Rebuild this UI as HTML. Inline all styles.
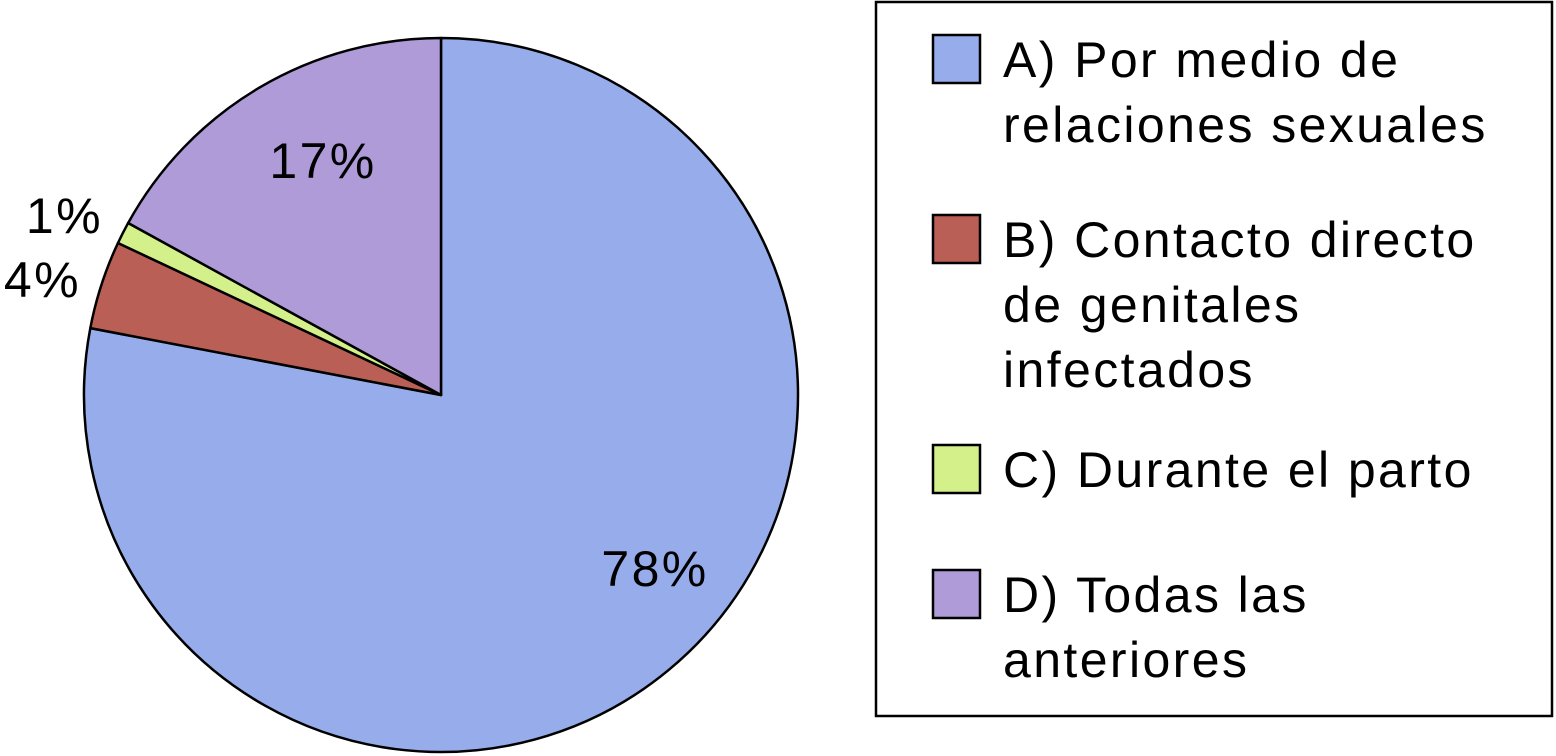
<!DOCTYPE html>
<html><head><meta charset="utf-8"><style>
html,body{margin:0;padding:0;background:#fff;width:1556px;height:756px;overflow:hidden}
svg{display:block;font-family:"Liberation Sans",Arial,sans-serif}
text{letter-spacing:2.4px}
</style></head><body>
<svg width="1556" height="756" viewBox="0 0 1556 756">
<g id="pie"></g>
<g id="labels"></g>
<g id="legend">
<rect x="876" y="2" width="676" height="714" fill="#fff" stroke="#000" stroke-width="2.5"/>
</g>
</svg>
<script>
const categories=["A) Por medio de|relaciones sexuales","B) Contacto directo|de genitales|infectados","C) Durante el parto","D) Todas las|anteriores"];
const values=[78,4,1,17];
const valueLabels=["78%","4%","1%","17%"];
const colors=["#97acea","#b95f55","#d4f08b","#ae9bd8"];
const NS="http://www.w3.org/2000/svg";
const cx=441,cy=395,r=357;
const total=values.reduce((a,b)=>a+b,0);
function pt(f,rad){const a=f*2*Math.PI;return [cx+rad*Math.sin(a),cy-rad*Math.cos(a)];}
const pie=document.getElementById('pie'),lab=document.getElementById('labels');
let acc=0;
const labelPos=[[654,586,"middle"],[81,297,"end"],[103,233,"end"],[322,178,"middle"]];
values.forEach((v,i)=>{
 const f0=acc/total,f1=(acc+v)/total;acc+=v;
 const [x0,y0]=pt(f0,r),[x1,y1]=pt(f1,r);
 const large=(f1-f0)>0.5?1:0;
 const p=document.createElementNS(NS,'path');
 p.setAttribute('d',`M${cx},${cy} L${x0},${y0} A${r},${r} 0 ${large} 1 ${x1},${y1} Z`);
 p.setAttribute('fill',colors[i]);p.setAttribute('stroke','#000');p.setAttribute('stroke-width','2.5');p.setAttribute('stroke-linejoin','round');
 
 
 pie.appendChild(p);
 const t=document.createElementNS(NS,'text');
 let lx,ly,anc;
 if(v>=10){const [mx,my]=pt((f0+f1)/2,r*0.6);lx=mx;ly=my+15;anc="middle";}
 else {lx=labelPos[i][0];ly=labelPos[i][1];anc=labelPos[i][2];}
 if(i===0){lx=655;ly=586;} if(i===3){lx=323;ly=178;}
 t.setAttribute('x',lx);t.setAttribute('y',ly);t.setAttribute('text-anchor',anc);t.setAttribute('font-size','50');
 t.textContent=valueLabels[i];
 
 
 lab.appendChild(t);
});
const leg=document.getElementById('legend');
const swY=[35,215,445,570];
categories.forEach((c,i)=>{
 const s=document.createElementNS(NS,'rect');
 s.setAttribute('x',933);s.setAttribute('y',swY[i]);s.setAttribute('width',47);s.setAttribute('height',48);
 s.setAttribute('fill',colors[i]);s.setAttribute('stroke','#000');s.setAttribute('stroke-width','2.5');
 
 
 leg.appendChild(s);
 c.split('|').forEach((line,j)=>{
  const t=document.createElementNS(NS,'text');
  t.setAttribute('x',1003);t.setAttribute('y',swY[i]+42+j*65);t.setAttribute('font-size','50');
  t.textContent=line;
  
  
  leg.appendChild(t);
 });
});
</script>
</body></html>
